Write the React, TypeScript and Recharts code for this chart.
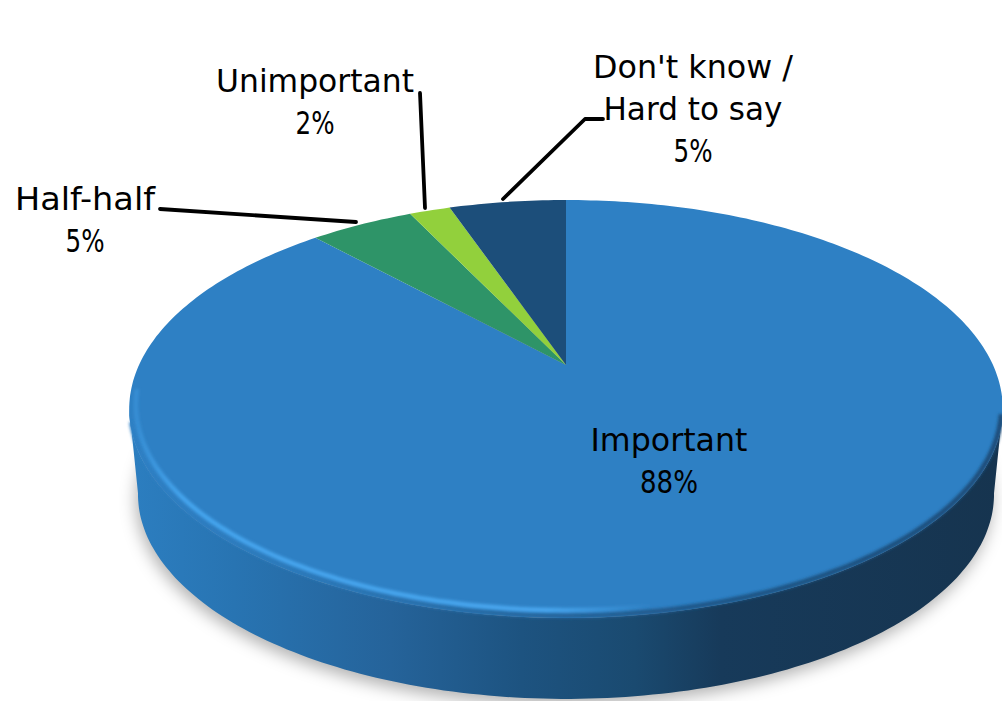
import React from "react";
import { PieChart, Pie } from "recharts";

const names = ["Important", "Half-half", "Unimportant", "Don't know / Hard to say"];
const values = [88.15, 4.7, 1.85, 5.3];
const colors = ["#2e80c4", "#2e9468", "#92d03c", "#1c4e7a"];
const rows = names.map((name, i) => ({ name, value: values[i], fill: colors[i] }));

// label layout: centre x, first baseline, text lines with their widths, leader polyline
const FONT = "'DejaVu Sans', sans-serif";
const labelLines = [["Important"], ["Half-half"], ["Unimportant"], ["Don't know /", "Hard to say"]];
const labelWidths = [[157], [140], [198], [200, 179]];
const percentWidths = [58, 39, 39, 39];
const labelAnchor = [
  { x: 669, y: 451 },
  { x: 85, y: 210 },
  { x: 315, y: 92 },
  { x: 693, y: 78 },
];
const leaders = [
  "",
  "160,209 356,222",
  "420,93 425,208",
  "603,119 585,119 503,199",
];

// perspective mapping of the pie's circle
const K = -0.2105;
const YF = 0.4677;
function proj(aDeg: number, cx: number, cy: number, r: number, s = 1, dy = 0) {
  const a = (aDeg * Math.PI) / 180;
  const X = Math.cos(a);
  const Y = -Math.sin(a);
  const d = 1 + K * Y;
  return [cx + (s * r * X) / d, cy + dy + (s * r * YF * Y) / d];
}
function arc(from: number, to: number, cx: number, cy: number, r: number, s = 1, dy = 0) {
  const n = Math.max(2, Math.ceil(Math.abs(to - from)));
  const pts: string[] = [];
  for (let i = 0; i <= n; i++) {
    const p = proj(from + ((to - from) * i) / n, cx, cy, r, s, dy);
    pts.push(p[0].toFixed(1) + " " + p[1].toFixed(1));
  }
  return pts;
}
const SIL_R = -11.9;
const SIL_L = -168.1;
const BS = 0.98;
const BD = 86;

function PieSlice(props: any) {
  const { cx, cy, outerRadius: r, startAngle, endAngle, fill } = props;
  const top = arc(startAngle, endAngle, cx, cy, r);
  const face = "M" + cx + " " + cy + " L" + top.join(" L") + " Z";
  const lo = Math.max(Math.min(startAngle, endAngle), SIL_L);
  const hi = Math.min(Math.max(startAngle, endAngle), SIL_R);
  const hasWall = hi > lo;
  let wall = "";
  let bottom = "";
  if (hasWall) {
    const t = arc(hi, lo, cx, cy, r);
    const b = arc(lo, hi, cx, cy, r, BS, BD);
    wall = "M" + t.join(" L") + " L" + b.join(" L") + " Z";
    const full = arc(0, 360, cx, cy, r, BS, BD);
    bottom = "M" + full.join(" L") + " Z";
  }
  const band = "M" + arc(196, 346, cx, cy, r, 0.997, -1.5).join(" L");
  const glow = "M" + arc(188, 300, cx, cy, r, 0.985, -4).join(" L");
  return (
    <g>
      {hasWall && (
        <>
          <defs>
            <linearGradient id="wallGrad" gradientUnits="userSpaceOnUse" x1="130" y1="0" x2="1000" y2="0">
              <stop offset="0" stopColor="#2c7ec0" />
              <stop offset="0.12" stopColor="#2874b2" />
              <stop offset="0.3" stopColor="#25639a" />
              <stop offset="0.45" stopColor="#1d5380" />
              <stop offset="0.58" stopColor="#1a4a70" />
              <stop offset="0.68" stopColor="#173a5a" />
              <stop offset="1" stopColor="#16344f" />
            </linearGradient>
            <linearGradient id="bandGrad" gradientUnits="userSpaceOnUse" x1="130" y1="0" x2="1000" y2="0">
              <stop offset="0" stopColor="#2e80c4" />
              <stop offset="0.2" stopColor="#2c78b8" />
              <stop offset="0.5" stopColor="#25649a" />
              <stop offset="0.66" stopColor="#1e5586" />
              <stop offset="1" stopColor="#1c4c78" />
            </linearGradient>
            <linearGradient id="glowGrad" gradientUnits="userSpaceOnUse" x1="130" y1="0" x2="1000" y2="0">
              <stop offset="0" stopColor="#45a5ee" stopOpacity={0.3} />
              <stop offset="0.06" stopColor="#45a5ee" stopOpacity={1} />
              <stop offset="0.48" stopColor="#48a6ee" stopOpacity={1} />
              <stop offset="0.6" stopColor="#48a6ee" stopOpacity={0} />
            </linearGradient>
            <filter id="shadowBlur" x="-10%" y="-10%" width="120%" height="130%">
              <feGaussianBlur stdDeviation="8" />
            </filter>
            <filter id="rimBlur" x="-5%" y="-5%" width="110%" height="110%">
              <feGaussianBlur stdDeviation="1.5" />
            </filter>
          </defs>
          <path d={bottom} transform="translate(-2 6)" fill="#000" fillOpacity={0.3} filter="url(#shadowBlur)" />
          <path d={wall} fill="url(#wallGrad)" />
        </>
      )}
      <path d={face} fill={fill} stroke="none" />
      {hasWall && (
        <>
          <path d={band} fill="none" stroke="url(#bandGrad)" strokeWidth={5} filter="url(#rimBlur)" />
          <path d={glow} fill="none" stroke="url(#glowGrad)" strokeWidth={4.5} filter="url(#rimBlur)" />
        </>
      )}
    </g>
  );
}

function SliceLabel(props: any) {
  const { index, value } = props;
  const a = labelAnchor[index];
  const lines = [...labelLines[index], Math.round(value) + "%"];
  const widths = [...labelWidths[index], percentWidths[index]];
  return (
    <g>
      {leaders[index] && (
        <polyline points={leaders[index]} fill="none" stroke="#000" strokeWidth={3.8} strokeLinecap="round" strokeLinejoin="round" />
      )}
      {lines.map((t, i) => (
        <text
          key={i}
          x={a.x}
          y={a.y + i * 42}
          textAnchor="middle"
          fontFamily={FONT}
          fontSize={31.6}
          textLength={widths[i]}
          lengthAdjust="spacingAndGlyphs"
          fill="#000"
        >
          {t}
        </text>
      ))}
    </g>
  );
}

export default function App() {
  return (
    <div style={{ position: "absolute", left: 0, top: 0, width: 1002, height: 701, overflow: "hidden", background: "#fff" }}>
      <PieChart width={1002} height={701} margin={{ top: 0, right: 0, bottom: 0, left: 0 }}>
        <Pie
          data={rows}
          dataKey="value"
          nameKey="name"
          cx={566}
          cy={365}
          innerRadius={0}
          outerRadius={427}
          startAngle={90}
          endAngle={-270}
          paddingAngle={0}
          stroke="none"
          isAnimationActive={false}
          shape={PieSlice}
          label={SliceLabel}
          labelLine={false}
        />
      </PieChart>
    </div>
  );
}
